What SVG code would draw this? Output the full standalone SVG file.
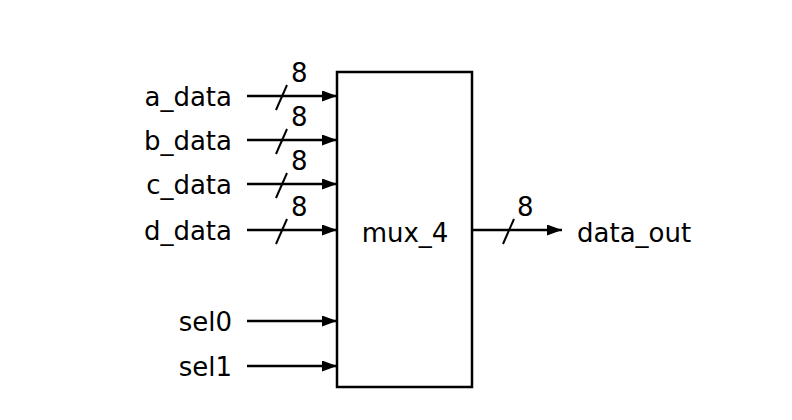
<svg xmlns="http://www.w3.org/2000/svg" width="792" height="420" viewBox="0 0 792 420">
<defs>
<marker id="arr" viewBox="0 0 15 11" refX="15" refY="5.5" markerWidth="15" markerHeight="11" markerUnits="userSpaceOnUse" orient="auto">
<path d="M0,0 L15,5.5 L0,11 Z" fill="#000"/>
</marker>
<style>
.w{stroke:#000;stroke-width:2.5;fill:none}
.s{stroke:#000;stroke-width:2;fill:none}
text{font-family:"DejaVu Sans","Liberation Sans",sans-serif;font-size:26px;fill:#000}
.lab{text-anchor:end}
</style>
</defs>
<rect width="792" height="420" fill="#fff"/>
<g id="mux_4">
<rect x="337" y="72" width="135" height="315" fill="#fff" stroke="#000" stroke-width="2.5"/>
<text x="405" y="242" text-anchor="middle">mux_4</text>
</g>
<g id="a_data"><text class="lab" x="232" y="106">a_data</text></g>
<g id="b_data"><text class="lab" x="232" y="150">b_data</text></g>
<g id="c_data"><text class="lab" x="232" y="194">c_data</text></g>
<g id="d_data"><text class="lab" x="232" y="240">d_data</text></g>
<g id="sel0"><text class="lab" x="232" y="331">sel0</text></g>
<g id="sel1"><text class="lab" x="232" y="376">sel1</text></g>
<g id="data_out"><text x="577" y="242">data_out</text></g>
<g id="connectors">
<line class="w" x1="247" y1="96" x2="337" y2="96" marker-end="url(#arr)"/>
<line class="w" x1="247" y1="140" x2="337" y2="140" marker-end="url(#arr)"/>
<line class="w" x1="247" y1="184" x2="337" y2="184" marker-end="url(#arr)"/>
<line class="w" x1="247" y1="230" x2="337" y2="230" marker-end="url(#arr)"/>
<line class="w" x1="247" y1="321" x2="337" y2="321" marker-end="url(#arr)"/>
<line class="w" x1="247" y1="366" x2="337" y2="366" marker-end="url(#arr)"/>
<line class="w" x1="472" y1="230" x2="562" y2="230" marker-end="url(#arr)"/>
<line class="s" x1="276" y1="110" x2="287" y2="85"/>
<line class="s" x1="276" y1="154" x2="287" y2="129"/>
<line class="s" x1="276" y1="198" x2="287" y2="173"/>
<line class="s" x1="276" y1="244" x2="287" y2="219"/>
<line class="s" x1="503" y1="244" x2="514" y2="219"/>
<text x="291" y="82">8</text>
<text x="291" y="126">8</text>
<text x="291" y="170">8</text>
<text x="291" y="216">8</text>
<text x="517" y="216">8</text>
</g>
</svg>
